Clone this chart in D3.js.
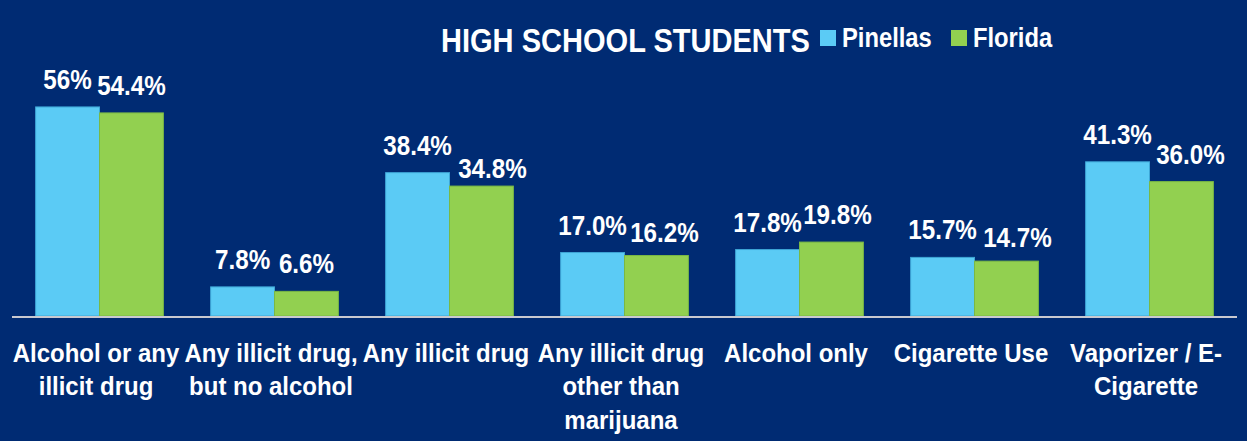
<!DOCTYPE html>
<html>
<head>
<meta charset="utf-8">
<script src="https://cdnjs.cloudflare.com/ajax/libs/d3/7.8.5/d3.min.js"></script>
<style>
  body { margin: 0; background: #002b73; }
  text { font-family: "Liberation Sans", Arial, sans-serif; font-weight: bold; fill: #fff; }
</style>
</head>
<body>
<svg id="chart"></svg>
<script>
var categories = [
  ["Alcohol or any", "illicit drug"],
  ["Any illicit drug,", "but no alcohol"],
  ["Any illicit drug"],
  ["Any illicit drug", "other than", "marijuana"],
  ["Alcohol only"],
  ["Cigarette Use"],
  ["Vaporizer / E-", "Cigarette"]
];
var pinellas = [56, 7.8, 38.4, 17.0, 17.8, 15.7, 41.3];
var florida = [54.4, 6.6, 34.8, 16.2, 19.8, 14.7, 36.0];
var pinellasLabels = ["56%", "7.8%", "38.4%", "17.0%", "17.8%", "15.7%", "41.3%"];
var floridaLabels = ["54.4%", "6.6%", "34.8%", "16.2%", "19.8%", "14.7%", "36.0%"];
var seriesNames = ["Pinellas", "Florida"];
var title = "HIGH SCHOOL STUDENTS";

var dimensions = {
  width: 1247,
  height: 441,
  margin: { top: 92, bottom: 125, left: 12, right: 10 }
};

var colors = { Pinellas: "#5bcbf5", Florida: "#92d050" };
var strokes = { Pinellas: "#3ea6d6", Florida: "#79b845" };
// the original uses a narrow bold face, so squeeze the text horizontally
var squeeze = 0.88;
// hand-placed florida labels in the original sit a bit right / lower
var floridaNudge = [[0, 0], [0, 0], [11, 10], [8, 4], [6, 0], [11, 4], [9, 0]];

var svg = d3.select("#chart")
  .attr("width", dimensions.width)
  .attr("height", dimensions.height);

svg.append("rect")
  .attr("width", dimensions.width)
  .attr("height", dimensions.height)
  .attr("fill", "#002b73");

function narrowText(parent, x, y, str, size, anchor, sx) {
  return parent.append("g")
    .attr("transform", "translate(" + x + "," + y + ")")
    .append("text")
    .attr("transform", "scale(" + (sx || squeeze) + ",1)")
    .attr("text-anchor", anchor || "middle")
    .style("font-size", size + "px")
    .text(str);
}

var idx = d3.range(categories.length);

var xScale = d3.scaleBand()
  .domain(idx)
  .range([dimensions.margin.left, dimensions.width - dimensions.margin.right])
  .paddingInner(0.27)
  .paddingOuter(0.135);

var xSub = d3.scaleBand()
  .domain(seriesNames)
  .range([0, xScale.bandwidth()]);

var baseline = dimensions.height - dimensions.margin.bottom;
var yScale = d3.scaleLinear()
  .domain([0, 60])
  .range([baseline, dimensions.margin.top]);

var rows = [];
idx.forEach(function (i) {
  rows.push({ i: i, s: "Pinellas", v: pinellas[i], label: pinellasLabels[i], nudge: [0, 0] });
  rows.push({ i: i, s: "Florida", v: florida[i], label: floridaLabels[i], nudge: floridaNudge[i] });
});

svg.selectAll("rect.bar")
  .data(rows)
  .enter()
  .append("rect")
  .attr("class", "bar")
  .attr("x", (d) => xScale(d.i) + xSub(d.s))
  .attr("y", (d) => yScale(d.v))
  .attr("width", xSub.bandwidth())
  .attr("height", (d) => baseline - yScale(d.v))
  .attr("fill", (d) => colors[d.s])
  .attr("stroke", (d) => strokes[d.s])
  .attr("stroke-width", 1);

rows.forEach(function (d) {
  narrowText(svg,
    xScale(d.i) + xSub(d.s) + xSub.bandwidth() / 2 + d.nudge[0],
    yScale(d.v) - 18 + d.nudge[1],
    d.label, 27.5);
});

// axis line
svg.append("line")
  .attr("x1", dimensions.margin.left)
  .attr("x2", dimensions.width - dimensions.margin.right)
  .attr("y1", baseline + 1)
  .attr("y2", baseline + 1)
  .attr("stroke", "#c9c9d0")
  .attr("stroke-width", 2);

idx.forEach(function (i) {
  categories[i].forEach(function (line, k) {
    narrowText(svg,
      xScale(i) + xScale.bandwidth() / 2 - 3.5,
      baseline + 46 + k * 33.3,
      line, 26.5, "middle", 0.905);
  });
});

// title + legend
narrowText(svg, 441, 51.5, title, 33, "start");

var legendX = [820, 951];
seriesNames.forEach(function (s, i) {
  svg.append("rect")
    .attr("x", legendX[i])
    .attr("y", 30)
    .attr("width", 16)
    .attr("height", 16)
    .attr("fill", colors[s]);
  narrowText(svg, legendX[i] + 22, 46.5, s, 27, "start");
});
</script>
</body>
</html>
